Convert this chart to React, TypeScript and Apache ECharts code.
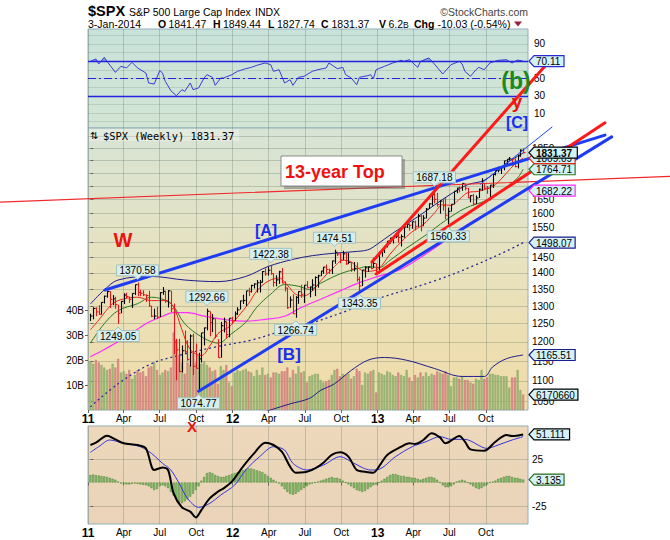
import React, { useEffect, useRef } from "react";
import * as echarts from "echarts";

const FONT = "'Liberation Sans', Arial, Helvetica, sans-serif";
const MONO = "'DejaVu Sans Mono', 'Liberation Mono', monospace";

// ---------------- data (weekly, index 0 = week ending 7-Jan-2011) ----------------
const closes = [
  1271.50,1293.24,1283.35,1276.34,1310.87,1329.15,1343.01,1319.88,1321.15,1304.28,1279.21,1313.80,1332.41,1328.17,1319.68,1337.38,1363.61,1340.20,1337.77,1333.27,1331.10,1300.16,1270.98,1271.50,1268.45,1339.67,1343.80,1316.14,1345.02,1292.28,1199.38,1178.81,1123.53,1176.80,1173.97,1154.23,1216.01,1136.43,1131.42,1155.46,1224.58,1238.25,1285.09,1253.23,1263.85,1215.65,1158.67,1244.28,1255.19,1219.66,1265.33,1257.60,
  1277.81,1289.09,1315.38,1316.33,1344.90,1342.64,1361.23,1365.74,1369.63,1370.87,1404.17,1397.11,1408.47,1398.08,1370.26,1378.53,1403.36,1369.10,1353.39,1295.22,1317.82,1278.04,1325.66,1342.84,1335.02,1362.16,1354.68,1356.78,1362.66,1385.97,1390.99,1405.87,1418.16,1411.13,1406.58,1437.92,1465.77,1460.15,1440.67,1460.93,1428.59,1433.19,1411.94,1414.20,1379.85,1359.88,1409.15,1416.18,1418.07,1413.58,1430.15,1402.43,
  1466.47,1472.05,1485.98,1502.96,1513.17,1517.93,1519.79,1515.60,1518.20,1551.18,1560.70,1556.89,1569.19,1553.28,1588.85,1555.25,1582.24,1614.42,1633.70,1667.47,1649.60,1630.74,1643.38,1626.73,1592.43,1606.28,1631.89,1680.19,1692.09,1691.65,1709.67,1691.42,1655.83,1663.50,1632.97,1655.17,1687.99,1709.91,1691.75,1690.50,1703.20,1744.50,1759.77,1761.64,1770.61,1798.18,1804.76,1805.81,1805.09,1775.32,1818.32,1841.40,1831.37,
];
const highs = [
  1278.17,1296.68,1296.63,1302.67,1311.00,1330.79,1344.07,1344.07,1332.28,1327.43,1304.19,1314.80,1337.85,1339.46,1328.17,1337.49,1364.56,1370.58,1348.65,1346.82,1334.62,1345.20,1300.16,1292.50,1298.61,1341.01,1356.48,1343.80,1347.00,1345.18,1307.38,1208.47,1208.47,1190.68,1230.71,1204.40,1220.39,1222.59,1195.86,1171.40,1224.61,1239.03,1292.66,1285.09,1277.55,1264.25,1207.51,1255.00,1267.06,1255.19,1265.42,1269.37,
  1284.62,1296.82,1315.49,1333.47,1345.34,1354.32,1363.40,1368.09,1378.04,1378.28,1405.88,1414.00,1419.15,1422.38,1398.08,1392.76,1406.64,1415.32,1373.91,1354.65,1328.49,1334.93,1329.05,1343.32,1363.46,1362.17,1374.81,1357.74,1380.39,1389.19,1394.16,1406.69,1418.71,1426.68,1413.46,1438.74,1474.51,1467.07,1463.46,1470.96,1464.02,1464.02,1433.81,1434.27,1433.38,1388.81,1409.16,1421.05,1420.04,1438.59,1448.00,1430.15,
  1467.94,1472.30,1485.98,1503.26,1514.41,1518.31,1524.69,1530.94,1525.84,1552.48,1563.62,1563.95,1570.28,1573.66,1597.35,1593.15,1592.64,1618.46,1635.01,1667.47,1687.18,1674.21,1646.53,1654.19,1654.19,1620.07,1632.07,1680.19,1693.12,1698.78,1709.67,1709.24,1693.01,1664.83,1669.51,1664.65,1689.97,1729.86,1711.44,1700.00,1703.44,1745.31,1759.82,1775.22,1774.54,1798.22,1804.84,1813.55,1810.02,1808.37,1823.75,1844.89,1849.44,
];
const lows = [
  1257.62,1262.18,1271.26,1275.10,1276.06,1307.61,1324.61,1294.26,1302.58,1291.99,1249.05,1279.21,1306.00,1322.94,1309.41,1294.70,1332.41,1329.17,1329.17,1329.17,1311.80,1297.90,1268.59,1262.66,1262.87,1268.45,1333.39,1309.66,1295.92,1282.86,1168.09,1101.54,1121.09,1121.09,1170.42,1150.30,1136.22,1114.22,1131.07,1074.77,1146.07,1190.58,1231.47,1215.42,1226.64,1209.92,1158.66,1158.66,1225.77,1209.47,1212.56,1248.64,
  1258.04,1274.65,1290.22,1306.06,1300.49,1329.15,1340.31,1352.28,1340.03,1340.03,1370.87,1391.06,1391.56,1394.16,1357.38,1358.79,1366.21,1367.95,1343.13,1291.98,1295.22,1277.25,1266.74,1306.62,1324.41,1309.27,1354.68,1325.41,1345.07,1329.24,1354.65,1389.97,1397.32,1398.04,1397.01,1396.56,1429.13,1454.03,1430.53,1440.90,1425.53,1428.59,1403.28,1405.00,1373.03,1343.35,1359.88,1385.43,1403.00,1411.88,1416.40,1401.58,
  1398.11,1451.64,1463.76,1482.05,1494.74,1495.01,1513.00,1497.29,1485.01,1514.71,1548.00,1538.57,1545.13,1539.50,1552.00,1536.03,1555.32,1581.28,1614.42,1626.74,1635.53,1622.72,1598.23,1608.51,1577.70,1560.33,1605.60,1631.89,1672.11,1676.03,1681.90,1683.45,1654.19,1639.43,1627.47,1633.00,1655.18,1682.06,1687.11,1670.36,1646.47,1692.59,1740.50,1752.70,1746.20,1760.64,1780.00,1799.60,1779.09,1772.28,1767.99,1815.00,1827.74,
];
// weekly volume, billions
const volumesB = [
  19.3,18.5,20.0,19.0, 18.0,17.0,16.0,16.5, 18.5,17.0,20.5,15.0, 15.5,14.5,16.0,12.5,14.0, 16.0,15.0,15.5,13.5, 17.0,17.5,19.0,16.0, 14.0,15.0,16.0,15.5,17.0, 31.0,28.0,22.0,19.0, 14.5,19.0,18.0,23.5,19.0, 22.0,18.5,19.5,18.0, 17.0,15.5,16.0,10.5, 17.5,16.0,18.0,11.0,9.5,
  15.0,16.0,15.5,16.0, 16.5,15.5,15.0,13.5, 16.0,14.0,17.0,14.0,14.5, 13.0,15.0,15.0,14.5, 15.5,15.5,17.0,13.0, 16.0,14.5,17.5,15.0,15.5, 11.0,13.5,14.0,14.5, 14.5,12.0,11.0,11.5,12.0, 14.0,16.0,16.5,13.5, 14.5,14.0,14.5,12.5, 13.5,16.5,15.5,10.0,15.0, 14.5,15.5,16.0,7.0,
  15.0,14.5,14.0,15.5, 15.0,14.0,13.5,15.0, 14.0,13.5,16.0,13.0,11.5, 14.0,13.0,15.0,13.5, 15.0,13.5,14.5,14.0,15.5, 15.0,14.5,15.5,14.0, 9.5,13.0,13.0,12.5, 13.5,12.0,12.0,11.0,10.5, 12.5,12.0,16.0,12.5, 13.0,14.5,14.5,14.0, 14.0,13.5,13.5,13.5,9.0, 13.0,13.0,16.0,8.0, 6.17,
];
const rsiPoints = [
  [0,69.9],[2,72.6],[3,66.8],[5,74.5],[6,69.9],[9,57.1],[11,64.1],[13,62.2],[15,68.7],[17,62.2],[20,56.4],[21,44.8],[23,43.6],[25,59.1],[26,56.4],[27,46.7],[29,35.9],[31,30.1],[33,37.1],[34,35.1],[36,44.8],[37,37.1],[39,39.0],[41,50.6],[42,54.4],[44,51.4],[45,42.1],[47,50.6],[48,50.6],[51,54.4],[53,58.3],[56,61.4],[58,62.9],[60,65.3],[63,68.0],[65,66.0],[66,58.3],[68,60.2],[70,44.8],[72,48.6],[73,42.1],[75,51.4],[77,52.5],[80,58.3],[82,60.2],[85,62.2],[86,68.0],[89,61.4],[91,62.9],[92,54.4],[94,50.6],[96,42.8],[97,51.4],[100,53.3],[101,54.4],[102,49.8],[103,60.2],[106,64.1],[109,68.0],[112,71.1],[113,69.9],[115,71.8],[118,62.9],[119,69.9],[122,73.8],[124,66.8],[127,55.2],[130,66.0],[133,69.9],[134,66.8],[135,58.3],[137,52.5],[139,60.2],[140,62.9],[142,60.2],[144,68.0],[147,71.1],[150,71.8],[152,68.0],[154,71.4],[156,70.11],
];
const maRed = [[0,1233],[3,1260],[8,1307],[12,1321],[17,1326],[22,1316],[27,1316],[30,1297],[33,1233],[36,1180],[40,1164],[43,1189],[46,1223],[50,1241],[53,1268],[57,1307],[60,1345],[64,1374],[68,1384],[71,1362],[74,1335],[77,1330],[80,1345],[84,1385],[88,1420],[91,1440],[94,1435],[97,1412],[100,1405],[104,1414],[108,1460],[112,1500],[116,1535],[120,1560],[124,1600],[127,1630],[130,1628],[133,1650],[136,1675],[140,1680],[143,1690],[146,1705],[150,1750],[153,1785],[156,1809.09]];
const maGreen = [[0,1197],[5,1250],[10,1287],[17,1307],[22,1326],[29,1307],[34,1250],[40,1214],[46,1197],[51,1223],[56,1254],[60,1297],[65,1335],[70,1364],[75,1359],[79,1349],[83,1368],[90,1397],[97,1415],[100,1420],[104,1417],[108,1440],[114,1480],[121,1524],[128,1574],[135,1617],[143,1647],[148,1678],[154,1731],[156,1764.71]];
const maMagenta = [[0,1161],[5,1180],[13,1214],[20,1250],[26,1271],[30,1281],[35,1281],[41,1271],[48,1262],[56,1257],[63,1262],[70,1271],[76,1296],[83,1320],[90,1345],[97,1370],[104,1390],[112,1412],[120,1455],[128,1505],[136,1560],[144,1605],[150,1640],[156,1682.22]];
const maDotted = [[0,1038],[10,1093],[22,1143],[34,1168],[46,1188],[58,1205],[70,1232],[79,1250],[92,1285],[103,1320],[124,1375],[138,1422],[150,1470],[156,1498.07]];
const bandUpper = [[0,1306],[5,1348],[10,1378],[22,1389],[34,1378],[46,1373],[56,1389],[64,1420],[73,1443],[80,1455],[88,1463],[95,1468],[100,1474],[103,1490],[109,1530],[118,1587],[124,1629],[130,1670],[136,1705],[142,1722],[149,1781],[153,1810],[156,1830]];
const bandLower = [[62,1025],[66,1033],[72,1045],[79,1058],[83,1077],[88,1093],[94,1126],[100,1152],[106,1159],[114,1152],[124,1131],[134,1111],[142,1111],[145,1135],[150,1156],[156,1165.51]];
const macdLine = [[0,39.9],[2,42.4],[6,49.8],[9,45.9],[12,41.7],[17,39.9],[20,36.3],[23,13.3],[26,16.1],[28,13.3],[30,-11.5],[33,-26.4],[36,-31],[38,-37.1],[40,-29.3],[43,-16.9],[46,-9.7],[48,-6.2],[51,0.9],[55,16.9],[59,31],[63,42.4],[66,39.9],[69,32.8],[72,16.9],[74,10.5],[77,10.8],[81,15.1],[84,21.1],[87,29.3],[90,32.1],[93,27.5],[96,13.3],[99,11.5],[102,10.5],[104,16.9],[107,29.3],[112,38.1],[115,41.7],[117,41],[120,45.2],[123,52.3],[126,48],[128,41.7],[133,49.5],[135,43.4],[137,35.3],[142,33.9],[146,43.4],[150,50.5],[152,49.5],[156,51.111]];
const macdSignal = [[0,32.1],[3,38.1],[7,45.2],[12,41.7],[18,38.1],[22,31],[26,20.4],[29,13.3],[32,-0.9],[35,-16.9],[39,-26.4],[43,-22.2],[47,-13.3],[52,-2.7],[56,13.3],[61,27.5],[66,38.1],[70,34.6],[73,20.4],[78,13.3],[84,18.6],[90,27.5],[95,20.4],[101,13.3],[104,14],[110,27.5],[116,38.1],[121,43.4],[126,48.8],[130,45.9],[135,45.9],[143,36.3],[147,39.9],[152,45.2],[156,48.8]];
const macdHist = [
  8,8.5,8,7.5,7,6.5,6,5,4,3,
  1,-1,-1.5,-2,-2,-1.5,-1,-1.5,-2,-2.5,-3,
  -4,-6,-8,-7,-4,-3,-4,-6,
  -10,-14,-18,-21,-22,-20,-18,-15,
  -12,-8,-4,
  2,6,10,11,10,8,7,6,6,
  7,8,9,
  10,11,12,13,14,15,15,14,13,12,11,
  9,7,5,3,1,-1,
  -4,-7,-10,-12,-13,-12,-10,
  -8,-6,-4,-2,-1,0,1,
  2,3,4,5,6,5,5,4,
  2,0,-2,-4,-6,
  -8,-9,-10,-9,-7,-5,-3,
  -2,0,2,4,6,
  8,9,9,8,7,7,6,6,5,5,4,
  3,4,5,6,6,5,3,
  0,-3,-5,-5,-4,-2,
  1,2,3,2,
  0,-2,-4,-6,-7,-6,-4,
  -2,0,1,2,
  4,5,6,7,7,6,5,5,4,3.135,
];
const quarterPos = [-0.86, 12.0, 25.0, 38.14, 51.29, 64.29, 77.29, 90.43, 103.57, 116.43, 129.43, 142.57];
const quarterLabels = ["11", "Apr", "Jul", "Oct", "12", "Apr", "Jul", "Oct", "13", "Apr", "Jul", "Oct"];
const priceGridTicks = [1050,1100,1150,1200,1250,1300,1350,1400,1450,1500,1550,1600,1650,1700,1750,1800,1850,1900];
// labels that the value tags do not fully cover
const priceLabelTicks = [1050,1100,1150,1200,1250,1300,1350,1400,1450,1550,1600,1650,1850];
const rsiGridTicks = [0,10,20,30,40,50,60,70,80,90,100];
const rsiLabelTicks = [10,30,50,90];
const volTicks = [10,20,30,40];
const macdTicks = [-25,25];
const peakLabels = [
  { idx: 17, value: 1370.58, dir: 1 }, { idx: 10, value: 1249.05, dir: -1 },
  { idx: 42, value: 1292.66, dir: 1 }, { idx: 39, value: 1074.77, dir: -1 },
  { idx: 65, value: 1422.38, dir: 1 }, { idx: 74, value: 1266.74, dir: -1 },
  { idx: 88, value: 1474.51, dir: 1 }, { idx: 97, value: 1343.35, dir: -1 },
  { idx: 124, value: 1687.18, dir: 1 }, { idx: 129, value: 1560.33, dir: -1 },
];
const trendLines = [
  { from: [-32.6, 1640], to: [208.9, 1737], color: "#f02a2a", width: 1.2 },
  { from: [5.26, 1347.6], to: [185.5, 1904.6], color: "#1f3cf5", width: 3 },
  { from: [39, 1074.77], to: [187.9, 1897], color: "#1f3cf5", width: 3 },
  { from: [103, 1396.6], to: [185.5, 1957.7], color: "#ff1a1a", width: 3 },
  { from: [101.5, 1434.5], to: [163.9, 2222], color: "#ff1a1a", width: 3 },
  { from: [140.6, 1707], to: [166.4, 1939], color: "#2040ff", width: 1 },
];

// ---------------- helpers ----------------
const X_MIN = -0.865;
const X_MAX = 157.75;
const RSI_OB = 70;
const GRIDC = "rgba(105,125,105,0.33)";
const CW: Record<string, number> = { ".": 0.278, ",": 0.278, "-": 0.333, "(": 0.333, ")": 0.333, "%": 0.889, B: 0.667 };
function textWidth(s: string, size: number, bold: boolean) {
  let w = 0;
  for (const ch of s) w += CW[ch] ?? 0.556;
  return w * size * (bold ? 1.06 : 1);
}
const up = (i: number) => (i === 0 ? true : closes[i] >= closes[i - 1]);

type RightLabel = { value: number; text: string; border: string; bold?: boolean };
function rightLabelSeries(xi: number, yi: number, items: RightLabel[], toAxis: (v: number) => number) {
  return {
    type: "custom", xAxisIndex: xi, yAxisIndex: yi, clip: false, z: 30, silent: true,
    data: items.map((it) => [X_MAX, toAxis(it.value)]),
    renderItem: (params: any, api: any) => {
      const it = items[params.dataIndex];
      const cs = params.coordSys;
      const y = api.coord([X_MAX, api.value(1)])[1];
      const x = cs.x + cs.width + 1;
      const fs = 10;
      const w = textWidth(it.text, fs, !!it.bold) + 5;
      const h = 11;
      return {
        type: "group",
        children: [
          { type: "polygon", shape: { points: [[x, y], [x + 5, y - h / 2], [x + 5 + w, y - h / 2], [x + 5 + w, y + h / 2], [x + 5, y + h / 2]] },
            style: { fill: "#d3f2f6", stroke: it.border, lineWidth: 1.2 } },
          { type: "text", x: x + 7, y: y + 0.5,
            style: { text: it.text, fill: "#000", font: `${it.bold ? "bold " : ""}${fs}px ${FONT}`, align: "left", verticalAlign: "middle", textAlign: "left", textVerticalAlign: "middle" } },
        ],
      };
    },
  };
}

function maSeries(points: number[][], color: string, width: number, dashed?: any) {
  return {
    type: "line", xAxisIndex: 1, yAxisIndex: 1, symbol: "none", smooth: 0.35, silent: true, z: 3,
    data: points.map(([x, p]) => [x, Math.log(p)]),
    lineStyle: { color, width, type: dashed || "solid" },
  };
}

const xLabelFormatter = (v: number) => {
  let best = 0;
  for (let i = 0; i < quarterPos.length; i++) if (Math.abs(quarterPos[i] - v) < Math.abs(quarterPos[best] - v)) best = i;
  const t = quarterLabels[best];
  return /^\d+$/.test(t) ? `{y|${t}}` : t;
};

function xAxis(gi: number, showLabels: boolean) {
  return {
    type: "value", gridIndex: gi, min: X_MIN, max: X_MAX,
    axisLine: { show: false },
    axisTick: { show: showLabels, length: 3, customValues: quarterPos, lineStyle: { color: "#666" } },
    axisLabel: {
      show: showLabels, customValues: quarterPos, formatter: xLabelFormatter, fontSize: 10, color: "#000", margin: 3,
      fontFamily: FONT, rich: { y: { fontWeight: "bold", fontSize: 12, fontFamily: FONT, color: "#000" } },
    },
    splitLine: { show: true, lineStyle: { color: GRIDC, width: 1 } },
  };
}

const annotations = [
  { text: "W", x: 123, y: 240, color: "#ee1111", size: 20 },
  { text: "[A]", x: 266, y: 230, color: "#1a2ff0", size: 16 },
  { text: "[B]", x: 289, y: 354, color: "#1a2ff0", size: 17 },
  { text: "X", x: 192, y: 426, color: "#ee1111", size: 15 },
  { text: "(b)", x: 516, y: 81, color: "#1a8a1a", size: 23 },
  { text: "y", x: 517, y: 101, color: "#ee1111", size: 19 },
  { text: "[C]", x: 517, y: 122, color: "#1a2ff0", size: 16 },
];

const headerItems = [
  { x: 88, y: 11, text: "$SPX", size: 14.5, bold: true },
  { x: 129, y: 11.5, text: "S&P 500 Large Cap Index", size: 10.5 },
  { x: 255, y: 11.5, text: "INDX", size: 10.5 },
  { x: 88, y: 24, text: "3-Jan-2014", size: 10.5 },
  { x: 158, y: 24, text: "O", size: 10.5, bold: true },
  { x: 168.5, y: 24, text: "1841.47", size: 10.5 },
  { x: 213, y: 24, text: "H", size: 10.5, bold: true },
  { x: 223, y: 24, text: "1849.44", size: 10.5 },
  { x: 268, y: 24, text: "L", size: 10.5, bold: true },
  { x: 277, y: 24, text: "1827.74", size: 10.5 },
  { x: 321, y: 24, text: "C", size: 10.5, bold: true },
  { x: 331.5, y: 24, text: "1831.37", size: 10.5 },
  { x: 379, y: 24, text: "V", size: 10.5, bold: true },
  { x: 388.5, y: 24, text: "6.2", size: 10.5 },
  { x: 403, y: 24.5, text: "B", size: 8.5 },
  { x: 414, y: 24, text: "Chg", size: 10.5, bold: true },
  { x: 437.5, y: 24, text: "-10.03 (-0.54%)", size: 10.5 },
];

function buildOption() {
  const ohlcData = closes.map((c, i) => [i, Math.log(highs[i] ?? c), Math.log(lows[i] ?? c), Math.log(c), up(i) ? 1 : 0]);
  const volumeData = volumesB.map((v, i) => ({
    value: [i, v],
    itemStyle: up(i) ? { color: "#a3bf7f", borderColor: "#7a9c5a", borderWidth: 0.5 } : { color: "#df9390", borderColor: "#c56d6a", borderWidth: 0.5 },
  }));
  const histData = macdHist.map((v, i) => [i, v]);

  const graphic: any[] = [];
  for (const h of headerItems) {
    graphic.push({ type: "text", x: h.x, y: h.y, z: 100,
      style: { text: h.text, fill: "#000", font: `${h.bold ? "bold " : ""}${h.size}px ${FONT}`, align: "left", verticalAlign: "middle", textAlign: "left", textVerticalAlign: "middle" } });
  }
  graphic.push({ type: "text", x: 528, y: 11.5, z: 100,
    style: { text: "\u00A9StockCharts.com", fill: "#444", font: `10.5px ${FONT}`, align: "right", verticalAlign: "middle", textAlign: "right", textVerticalAlign: "middle" } });
  graphic.push({ type: "polygon", z: 100, shape: { points: [[514, 21.5], [522, 21.5], [518, 26.5]] }, style: { fill: "#9b1c3c" } });
  // panel legend
  graphic.push({ type: "rect", z: 90, shape: { x: 89, y: 129, width: 150, height: 12 }, style: { fill: "rgba(255,255,255,0.25)" } });
  graphic.push({ type: "text", x: 90, y: 135.5, z: 100, style: { text: "\u21C5", fill: "#000", font: `10px ${FONT}`, align: "left", verticalAlign: "middle", textAlign: "left", textVerticalAlign: "middle" } });
  graphic.push({ type: "text", x: 103, y: 135.5, z: 100, style: { text: "$SPX (Weekly) 1831.37", fill: "#000", font: `10.4px ${MONO}`, align: "left", verticalAlign: "middle", textAlign: "left", textVerticalAlign: "middle" } });
  // 13-year Top callout
  graphic.push({ type: "rect", z: 95, shape: { x: 284, y: 159, width: 121, height: 30 }, style: { fill: "rgba(90,90,90,0.45)" } });
  graphic.push({ type: "rect", z: 96, shape: { x: 281, y: 156, width: 121, height: 30 }, style: { fill: "#ffffff", stroke: "#8a8a8a", lineWidth: 1 } });
  graphic.push({ type: "text", x: 285, y: 171.5, z: 100, style: { text: "13-year Top", fill: "#f01010", font: `bold 18px ${FONT}`, align: "left", verticalAlign: "middle", textAlign: "left", textVerticalAlign: "middle" } });
  for (const a of annotations) {
    graphic.push({ type: "text", x: a.x, y: a.y, z: 100,
      style: { text: a.text, fill: a.color, font: `bold ${a.size}px ${FONT}`, align: "center", verticalAlign: "middle", textAlign: "center", textVerticalAlign: "middle" } });
  }

  return {
    animation: false,
    backgroundColor: "#ffffff",
    textStyle: { fontFamily: FONT },
    grid: [
      { left: 88, top: 29, width: 440, height: 99, show: true, borderColor: "#93aebb", borderWidth: 1,
        backgroundColor: new echarts.graphic.LinearGradient(0, 0, 0, 1, [{ offset: 0, color: "#c8e2da" }, { offset: 1, color: "#d3e5d4" }]) },
      { left: 88, top: 128, width: 440, height: 282, show: true, borderColor: "#93aebb", borderWidth: 1,
        backgroundColor: new echarts.graphic.LinearGradient(0, 0, 0, 1, [{ offset: 0, color: "#d7e4d6" }, { offset: 0.5, color: "#e8e2be" }, { offset: 1, color: "#f1dba7" }]) },
      { left: 88, top: 426, width: 440, height: 98, show: true, borderColor: "#93aebb", borderWidth: 1,
        backgroundColor: new echarts.graphic.LinearGradient(0, 0, 0, 1, [{ offset: 0, color: "#edd8bb" }, { offset: 1, color: "#ead3b8" }]) },
    ],
    xAxis: [xAxis(0, false), xAxis(1, true), xAxis(2, true)],
    yAxis: [
      { type: "value", gridIndex: 0, position: "right", min: -7.39, max: 107.39,
        axisLine: { show: false }, axisTick: { show: false, customValues: rsiGridTicks },
        axisLabel: { customValues: rsiLabelTicks, fontSize: 10, color: "#000", margin: 6 },
        splitLine: { show: true, lineStyle: { color: "rgba(110,140,125,0.25)" } } },
      { type: "value", gridIndex: 1, position: "right", min: Math.log(1030.8), max: Math.log(1935),
        axisLine: { show: false }, axisTick: { show: true, length: 3, customValues: priceGridTicks.map(Math.log), lineStyle: { color: "#666" } },
        axisLabel: { customValues: priceLabelTicks.map(Math.log), formatter: (v: number) => String(Math.round(Math.exp(v))), fontSize: 10, color: "#000", margin: 4 },
        splitLine: { show: true, lineStyle: { color: GRIDC } } },
      { type: "value", gridIndex: 1, position: "left", min: 0, max: 112.8,
        axisLine: { show: false }, axisTick: { show: true, length: 3, customValues: volTicks, lineStyle: { color: "#666" } },
        axisLabel: { customValues: volTicks, formatter: (v: number) => `${v}B`, fontSize: 10, color: "#000", margin: 4 },
        splitLine: { show: false } },
      { type: "value", gridIndex: 2, position: "right", min: -44.1, max: 60.1,
        axisLine: { show: false }, axisTick: { show: true, length: 3, customValues: macdTicks, lineStyle: { color: "#666" } },
        axisLabel: { customValues: macdTicks, fontSize: 10, color: "#000", margin: 4 },
        splitLine: { show: true, lineStyle: { color: GRIDC } } },
    ],
    series: [
      // RSI shading above the 70 level
      { type: "custom", xAxisIndex: 0, yAxisIndex: 0, z: 2, silent: true, data: [[0, RSI_OB]],
        renderItem: (params: any, api: any) => {
          const children: any[] = [];
          let run: number[][] = [];
          const flush = () => {
            if (run.length > 2) children.push({ type: "polygon", shape: { points: run.map((p) => api.coord(p)) }, style: { fill: "rgba(110,150,215,0.8)" } });
            run = [];
          };
          for (let i = 0; i < rsiPoints.length; i++) {
            const [x, v] = rsiPoints[i];
            const prev = i > 0 ? rsiPoints[i - 1] : null;
            if (prev && (prev[1] - RSI_OB) * (v - RSI_OB) < 0) {
              const cx = prev[0] + ((RSI_OB - prev[1]) / (v - prev[1])) * (x - prev[0]);
              if (v > RSI_OB) { run = [[cx, RSI_OB]]; } else { run.push([cx, RSI_OB]); flush(); }
            }
            if (v >= RSI_OB) {
              if (run.length === 0) run.push([x, RSI_OB]);
              run.push([x, v]);
            }
          }
          if (run.length) { run.push([rsiPoints[rsiPoints.length - 1][0], RSI_OB]); flush(); }
          return { type: "group", children };
        } },
      { type: "line", xAxisIndex: 0, yAxisIndex: 0, symbol: "none", silent: true, z: 3, data: rsiPoints,
        lineStyle: { color: "#3b3bd6", width: 1 },
        markLine: { silent: true, symbol: "none", label: { show: false },
          data: [
            { yAxis: 70, lineStyle: { color: "#2323e0", width: 1.4, type: "solid" } },
            { yAxis: 30, lineStyle: { color: "#2323e0", width: 1.4, type: "solid" } },
            { yAxis: 50, lineStyle: { color: "#2323e0", width: 1.2, type: [8, 3, 2, 3] } },
          ] } },
      // volume
      { type: "bar", xAxisIndex: 1, yAxisIndex: 2, barWidth: 2, silent: true, z: 1, data: volumeData },
      // moving averages and bands
      maSeries(maDotted, "#2a2a98", 1.3, [2, 3]),
      maSeries(bandLower, "#1c1c8c", 1),
      maSeries(bandUpper, "#1c1c8c", 1),
      maSeries(maMagenta, "#ff2cff", 1.2),
      maSeries(maGreen, "#2c7a1e", 1),
      maSeries(maRed, "#e8281e", 1),
      // OHLC bars
      { type: "custom", xAxisIndex: 1, yAxisIndex: 1, z: 5, silent: true, data: ohlcData, encode: { x: 0, y: [1, 2] },
        renderItem: (params: any, api: any) => {
          const x = api.value(0);
          const h = api.coord([x, api.value(1)]);
          const l = api.coord([x, api.value(2)]);
          const c = api.coord([x, api.value(3)]);
          const col = api.value(4) ? "#000000" : "#e8141b";
          const px = Math.round(h[0]) + 0.5;
          return { type: "group", children: [
            { type: "line", shape: { x1: px, y1: h[1], x2: px, y2: l[1] }, style: { stroke: col, lineWidth: 1.1 } },
            { type: "line", shape: { x1: px, y1: c[1], x2: px + 2, y2: c[1] }, style: { stroke: col, lineWidth: 1.1 } },
          ] };
        } },
      // drawn trend lines
      { type: "custom", xAxisIndex: 1, yAxisIndex: 1, z: 10, clip: false, silent: true,
        data: trendLines.map((t) => [t.from[0], Math.log(t.from[1]), t.to[0], Math.log(t.to[1])]),
        encode: { x: [0, 2], y: [1, 3] },
        renderItem: (params: any, api: any) => {
          const t = trendLines[params.dataIndex];
          const a = api.coord([api.value(0), api.value(1)]);
          const b = api.coord([api.value(2), api.value(3)]);
          return { type: "line", shape: { x1: a[0], y1: a[1], x2: b[0], y2: b[1] }, style: { stroke: t.color, lineWidth: t.width, lineCap: "round" } };
        } },
      // peak / trough callouts
      { type: "custom", xAxisIndex: 1, yAxisIndex: 1, z: 15, clip: false, silent: true,
        data: peakLabels.map((p) => [p.idx, Math.log(p.value)]),
        renderItem: (params: any, api: any) => {
          const p = peakLabels[params.dataIndex];
          const pt = api.coord([api.value(0), api.value(1)]);
          const text = p.value.toFixed(2);
          const w = textWidth(text, 10, false) + 6;
          const h = 11;
          const cx = pt[0];
          const cy = pt[1] - p.dir * 12;
          const l = cx - w / 2, r = cx + w / 2, t = cy - h / 2, b = cy + h / 2;
          const pts = p.dir > 0
            ? [[l, t], [r, t], [r, b], [cx + 3.5, b], [cx, b + 3.5], [cx - 3.5, b], [l, b]]
            : [[l, t], [cx - 3.5, t], [cx, t - 3.5], [cx + 3.5, t], [r, t], [r, b], [l, b]];
          return { type: "group", children: [
            { type: "polygon", shape: { points: pts }, style: { fill: "#d8eeec", stroke: "#9fc2c2", lineWidth: 1 } },
            { type: "text", x: cx, y: cy + 0.5, style: { text, fill: "#000", font: `10px ${FONT}`, align: "center", verticalAlign: "middle", textAlign: "center", textVerticalAlign: "middle" } },
          ] };
        } },
      // MACD panel
      { type: "bar", xAxisIndex: 2, yAxisIndex: 3, barWidth: 2, silent: true, z: 2, data: histData,
        itemStyle: { color: "#92c870", borderColor: "#3d7a2c", borderWidth: 0.5 } },
      { type: "line", xAxisIndex: 2, yAxisIndex: 3, symbol: "none", smooth: 0.3, silent: true, z: 3, data: macdSignal, lineStyle: { color: "#3333dd", width: 1 } },
      { type: "line", xAxisIndex: 2, yAxisIndex: 3, symbol: "none", smooth: 0.3, silent: true, z: 4, data: macdLine, lineStyle: { color: "#000000", width: 2 } },
      // right-edge value tags
      rightLabelSeries(0, 0, [{ value: 70.11, text: "70.11", border: "#2a2ad0" }], (v) => v),
      rightLabelSeries(1, 1, [
        { value: 1165.51, text: "1165.51", border: "#1c1c8c" },
        { value: 1498.07, text: "1498.07", border: "#1c1c8c" },
        { value: 1682.22, text: "1682.22", border: "#ff2cff" },
        { value: 1764.71, text: "1764.71", border: "#2c7a1e" },
        { value: 1809.09, text: "1809.09", border: "#e8281e" },
        { value: 1831.37, text: "1831.37", border: "#000000", bold: true },
      ], Math.log),
      rightLabelSeries(1, 2, [{ value: 6.17066, text: "6170660", border: "#000000" }], (v) => v),
      rightLabelSeries(2, 3, [
        { value: 3.135, text: "3.135", border: "#2c6a1e" },
        { value: 51.111, text: "51.111", border: "#000000" },
      ], (v) => v),
    ],
    graphic,
  };
}

export default function App() {
  const ref = useRef<HTMLDivElement>(null);
  useEffect(() => {
    if (!ref.current) return;
    const chart = echarts.init(ref.current, null, { renderer: "svg" });
    chart.setOption(buildOption() as any);
    return () => chart.dispose();
  }, []);
  return <div ref={ref} style={{ position: "fixed", left: 0, top: 0, width: 670, height: 540, background: "#fff" }} />;
}
